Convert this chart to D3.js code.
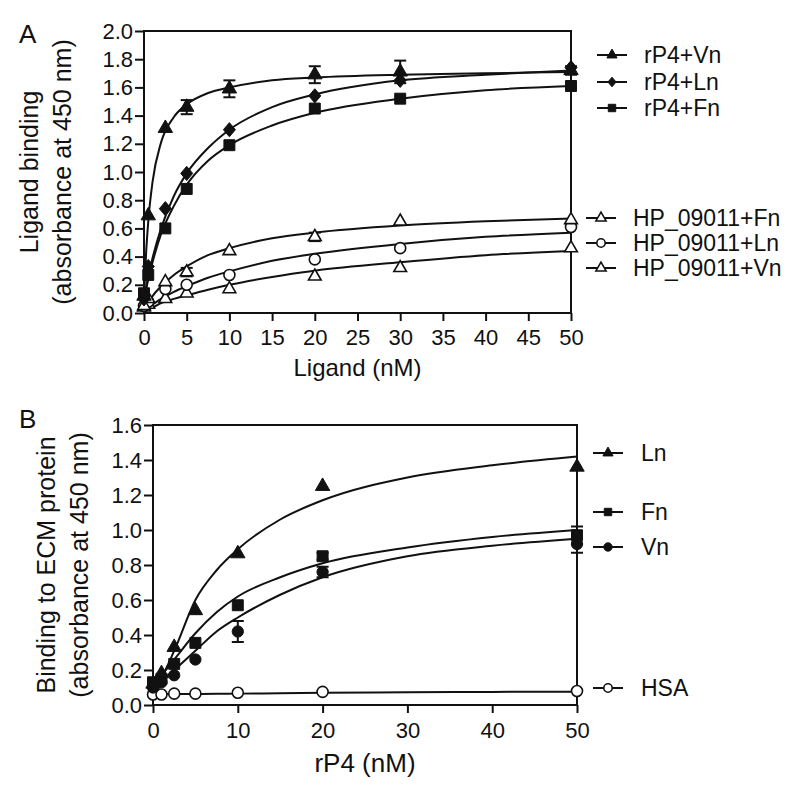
<!DOCTYPE html>
<html>
<head>
<meta charset="utf-8">
<script src="https://cdn.jsdelivr.net/npm/d3@7"></script>
<style>
html,body{margin:0;padding:0;background:#fff;}
svg{display:block;font-family:"Liberation Sans",Arial,Helvetica,sans-serif;}
</style>
</head>
<body>
<svg id="chart" width="800" height="799"></svg>
<script>
// ---------- Panel A data ----------
const ligandConc = [0, 0.5, 2.5, 5, 10, 20, 30, 50];
const aVn = [0.12, 0.69, 1.31, 1.46, 1.59, 1.69, 1.71, 1.72];
const aVnErr = [0, 0, 0, 0.05, 0.06, 0.06, 0.08, 0.03];
const aLn = [0.10, 0.33, 0.74, 0.99, 1.30, 1.54, 1.65, 1.74];
const aFn = [0.14, 0.27, 0.60, 0.88, 1.19, 1.45, 1.52, 1.61];
const hpFn = [0.05, 0.10, 0.22, 0.29, 0.44, 0.54, 0.65, 0.66];
const hpFnErr = [0, 0, 0, 0.03, 0, 0.03, 0, 0];
const hpLn = [0.05, 0.08, 0.17, 0.20, 0.27, 0.38, 0.46, 0.61];
const hpVn = [0.04, 0.06, 0.10, 0.14, 0.17, 0.26, 0.32, 0.46];
// fitted curves
const aCurveX = [0, 0.25, 0.5, 1, 2, 3.5, 5, 7.5, 10, 15, 20, 30, 40, 50];
const aVnFit = [0.10, 0.43, 0.65, 0.93, 1.21, 1.39, 1.48, 1.56, 1.60, 1.65, 1.67, 1.69, 1.70, 1.71];
const aLnFit = [0.10, 0.18, 0.26, 0.39, 0.60, 0.83, 0.99, 1.17, 1.30, 1.46, 1.55, 1.65, 1.69, 1.72];
const aFnFit = [0.10, 0.17, 0.24, 0.36, 0.56, 0.76, 0.91, 1.08, 1.19, 1.33, 1.42, 1.52, 1.58, 1.61];
const hpFnFit = [0.02, 0.05, 0.07, 0.12, 0.19, 0.27, 0.33, 0.41, 0.46, 0.53, 0.57, 0.62, 0.65, 0.67];
const hpLnFit = [0.02, 0.03, 0.04, 0.06, 0.10, 0.15, 0.19, 0.25, 0.295, 0.37, 0.42, 0.49, 0.54, 0.57];
const hpVnFit = [0.02, 0.03, 0.03, 0.04, 0.07, 0.10, 0.125, 0.165, 0.20, 0.256, 0.30, 0.36, 0.41, 0.44];
const aXTicks = [0, 5, 10, 15, 20, 25, 30, 35, 40, 45, 50];
const aYTicks = [0, 0.2, 0.4, 0.6, 0.8, 1.0, 1.2, 1.4, 1.6, 1.8, 2.0];
const aLegend1 = ["rP4+Vn", "rP4+Ln", "rP4+Fn"];
const aLegend2 = ["HP_09011+Fn", "HP_09011+Ln", "HP_09011+Vn"];

// ---------- Panel B data ----------
const rp4Conc = [0, 1, 2.5, 5, 10, 20, 50];
const bLn = [0.12, 0.18, 0.33, 0.54, 0.865, 1.25, 1.36];
const bFn = [0.13, 0.15, 0.235, 0.355, 0.57, 0.85, 0.97];
const bFnErr = [0, 0, 0, 0, 0, 0.02, 0.05];
const bVn = [0.10, 0.13, 0.17, 0.26, 0.42, 0.76, 0.92];
const bVnErr = [0, 0, 0, 0, 0.06, 0.03, 0.05];
const bHSA = [0.06, 0.06, 0.065, 0.065, 0.07, 0.075, 0.08];
const bCurveX = [0, 1, 2.5, 5, 7.5, 10, 15, 20, 30, 40, 50];
const bLnFit = [0.10, 0.16, 0.31, 0.60, 0.77, 0.89, 1.06, 1.17, 1.30, 1.37, 1.42];
const bFnFit = [0.12, 0.17, 0.26, 0.41, 0.53, 0.62, 0.73, 0.81, 0.90, 0.96, 1.00];
const bVnFit = [0.11, 0.14, 0.20, 0.31, 0.42, 0.50, 0.63, 0.73, 0.85, 0.91, 0.95];
const bHsaFit = [0.063, 0.063, 0.063, 0.063, 0.064, 0.065, 0.067, 0.07, 0.073, 0.075, 0.076];
const bXTicks = [0, 10, 20, 30, 40, 50];
const bYTicks = [0, 0.2, 0.4, 0.6, 0.8, 1.0, 1.2, 1.4, 1.6];
const bLegend = ["Ln", "Fn", "Vn", "HSA"];

// ---------- drawing ----------
const svg = d3.select("#chart");
const INK = "#111";

const diamond = {
  draw(ctx, size) {
    const h = Math.sqrt(size) * 0.62, w = h * 0.85;
    ctx.moveTo(0, -h); ctx.lineTo(w, 0); ctx.lineTo(0, h); ctx.lineTo(-w, 0); ctx.closePath();
  }
};
const symType = {tri: d3.symbolTriangle, dia: diamond, sq: d3.symbolSquare, circ: d3.symbolCircle};

function marker(g, type, size, filled) {
  return g.append("path")
    .attr("d", d3.symbol().type(symType[type]).size(size)())
    .attr("fill", filled ? INK : "#fff")
    .attr("stroke", INK)
    .attr("stroke-width", filled ? 1 : 1.6);
}

function panel(cfg) {
  const x = d3.scaleLinear().domain([0, 50]).range(cfg.xr);
  const y = d3.scaleLinear().domain(cfg.yd).range(cfg.yr);
  const g = svg.append("g");

  // frame
  g.append("rect").attr("x", cfg.xr[0]).attr("y", cfg.yr[1])
    .attr("width", cfg.xr[1] - cfg.xr[0]).attr("height", cfg.yr[0] - cfg.yr[1])
    .attr("fill", "none").attr("stroke", INK).attr("stroke-width", 2);

  const ax = g.append("g").attr("transform", `translate(0,${cfg.yr[0]})`)
    .call(d3.axisBottom(x).tickValues(cfg.xt).tickFormat(d3.format("d")).tickSize(8).tickSizeOuter(0).tickPadding(cfg.xpad));
  const ay = g.append("g").attr("transform", `translate(${cfg.xr[0]},0)`)
    .call(d3.axisLeft(y).tickValues(cfg.yt).tickFormat(d3.format(".1f")).tickSize(9).tickSizeOuter(0).tickPadding(2));
  [ax, ay].forEach(a => {
    a.select(".domain").remove();
    a.selectAll("line").attr("stroke", INK).attr("stroke-width", 2);
    a.selectAll("text").attr("fill", INK).attr("font-size", 22).attr("font-family", '"Liberation Sans",Arial,sans-serif');
  });

  const line = d3.line().x(d => x(d[0])).y(d => y(d[1])).curve(d3.curveMonotoneX);
  cfg.series.forEach(s => {
    g.append("path").datum(s.fitX.map((v, i) => [v, s.fit[i]]))
      .attr("d", line).attr("fill", "none").attr("stroke", INK).attr("stroke-width", 2);
  });
  cfg.series.forEach(s => {
    if (!s.err) return;
    s.xs.forEach((xv, i) => {
      const e = s.err[i]; if (!e) return;
      const cx = x(xv);
      g.append("line").attr("x1", cx).attr("x2", cx).attr("y1", y(s.ys[i] - e)).attr("y2", y(s.ys[i] + e))
        .attr("stroke", INK).attr("stroke-width", 2);
      [s.ys[i] - e, s.ys[i] + e].forEach(v => g.append("line")
        .attr("x1", cx - 6).attr("x2", cx + 6).attr("y1", y(v)).attr("y2", y(v))
        .attr("stroke", INK).attr("stroke-width", 2));
    });
  });
  cfg.series.forEach(s => {
    s.xs.forEach((xv, i) => {
      marker(g, s.type, s.size, s.filled).attr("transform", `translate(${x(xv)},${y(s.ys[i])})`);
    });
  });

  // axis titles
  g.append("text").attr("x", (cfg.xr[0] + cfg.xr[1]) / 2).attr("y", cfg.xtY)
    .attr("text-anchor", "middle").attr("font-size", cfg.xtSize).attr("fill", INK).text(cfg.xTitle);
  const cy = (cfg.yr[0] + cfg.yr[1]) / 2;
  cfg.yTitle.forEach((t, i) => {
    g.append("text").attr("transform", `translate(${cfg.ytX[i]},${cy}) rotate(-90)`)
      .attr("text-anchor", "middle").attr("font-size", 25).attr("fill", INK).text(t);
  });
  g.append("text").attr("x", 19).attr("y", cfg.letterY).attr("font-size", 26).attr("fill", INK).text(cfg.letter);

  // legend
  cfg.legend.forEach(l => {
    g.append("line").attr("x1", l.x1).attr("x2", l.x1 + 30).attr("y1", l.y).attr("y2", l.y)
      .attr("stroke", INK).attr("stroke-width", 2);
    marker(g, l.type, l.size, l.filled).attr("transform", `translate(${l.x1 + 15},${l.y})`);
    g.append("text").attr("x", l.tx).attr("y", l.y).attr("dy", "0.35em")
      .attr("font-size", 23).attr("fill", INK).text(l.label);
  });
}

panel({
  xr: [144, 571], yr: [313, 31], yd: [0, 2], xt: aXTicks, yt: aYTicks, xpad: 8,
  xTitle: "Ligand (nM)", xtY: 376, xtSize: 24,
  yTitle: ["Ligand binding", "(absorbance at 450 nm)"], ytX: [38, 71],
  letter: "A", letterY: 43,
  series: [
    {xs: ligandConc, ys: hpVn, fitX: aCurveX, fit: hpVnFit, type: "tri", size: 70, filled: false},
    {xs: ligandConc, ys: hpLn, fitX: aCurveX, fit: hpLnFit, type: "circ", size: 95, filled: false},
    {xs: ligandConc, ys: hpFn, err: hpFnErr, fitX: aCurveX, fit: hpFnFit, type: "tri", size: 70, filled: false},
    {xs: ligandConc, ys: aFn, fitX: aCurveX, fit: aFnFit, type: "sq", size: 120, filled: true},
    {xs: ligandConc, ys: aLn, fitX: aCurveX, fit: aLnFit, type: "dia", size: 130, filled: true},
    {xs: ligandConc, ys: aVn, err: aVnErr, fitX: aCurveX, fit: aVnFit, type: "tri", size: 90, filled: true}
  ],
  legend: [
    {label: aLegend1[0], x1: 597, y: 55, tx: 644, type: "tri", size: 45, filled: true},
    {label: aLegend1[1], x1: 597, y: 82, tx: 644, type: "dia", size: 60, filled: true},
    {label: aLegend1[2], x1: 597, y: 108, tx: 644, type: "sq", size: 55, filled: true},
    {label: aLegend2[0], x1: 586, y: 218, tx: 633, type: "tri", size: 45, filled: false},
    {label: aLegend2[1], x1: 586, y: 243, tx: 633, type: "circ", size: 55, filled: false},
    {label: aLegend2[2], x1: 586, y: 268, tx: 633, type: "tri", size: 45, filled: false}
  ]
});

panel({
  xr: [153, 577], yr: [705, 425], yd: [0, 1.6], xt: bXTicks, yt: bYTicks, xpad: 9,
  xTitle: "rP4 (nM)", xtY: 772, xtSize: 26,
  yTitle: ["Binding to ECM protein", "(absorbance at 450 nm)"], ytX: [55, 88],
  letter: "B", letterY: 428,
  series: [
    {xs: rp4Conc, ys: bHSA, fitX: bCurveX, fit: bHsaFit, type: "circ", size: 95, filled: false},
    {xs: rp4Conc, ys: bVn, err: bVnErr, fitX: bCurveX, fit: bVnFit, type: "circ", size: 100, filled: true},
    {xs: rp4Conc, ys: bFn, err: bFnErr, fitX: bCurveX, fit: bFnFit, type: "sq", size: 120, filled: true},
    {xs: rp4Conc, ys: bLn, fitX: bCurveX, fit: bLnFit, type: "tri", size: 90, filled: true}
  ],
  legend: [
    {label: bLegend[0], x1: 593, y: 453, tx: 641, type: "tri", size: 45, filled: true},
    {label: bLegend[1], x1: 593, y: 512, tx: 641, type: "sq", size: 55, filled: true},
    {label: bLegend[2], x1: 593, y: 547, tx: 641, type: "circ", size: 55, filled: true},
    {label: bLegend[3], x1: 593, y: 688, tx: 641, type: "circ", size: 55, filled: false}
  ]
});
</script>
</body>
</html>
